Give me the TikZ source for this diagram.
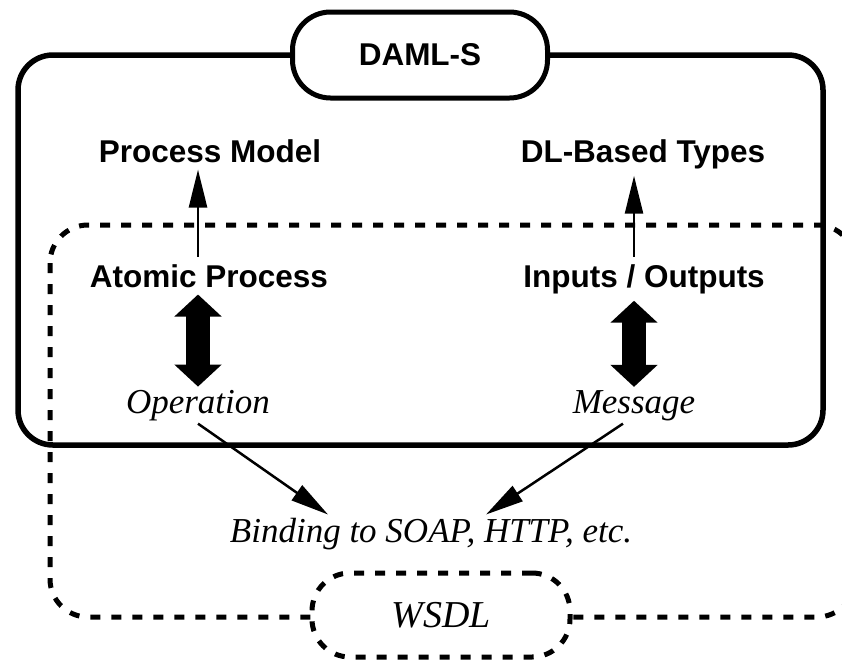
\documentclass[tikz,border=0pt]{standalone}
\usepackage{fontspec}
\setmainfont{Liberation Serif}
\setsansfont{Liberation Sans}
\usetikzlibrary{arrows.meta}

\begin{document}
\begin{tikzpicture}[x=1pt, y=-1pt,
  damlterm/.style = {font=\fontsize{31.5}{36}\selectfont\sffamily\bfseries, inner sep=7pt, anchor=base},
  wsdlterm/.style = {font=\fontsize{35}{40}\selectfont\itshape, inner sep=3pt, anchor=base},
  pill/.style = {draw, fill=white, line width=5pt, rounded corners=38pt,
    minimum width=255pt, minimum height=86pt},
  dots/.style = {line width=5pt, dash pattern=on 10pt off 11pt},
  thin arrow/.style = {line width=2.5pt, -{Triangle[length=38pt,width=18pt]}},
  fat arrow/.style = {line width=24pt,
    {Triangle[length=22pt,width=46pt]}-{Triangle[length=22pt,width=46pt]}}]
  \useasboundingbox (0,0) rectangle (842,659);
  % the two frames
  \draw[line width=5.5pt, rounded corners=35pt] (18,55) rectangle (823,445);
  \draw[dots, rounded corners=38pt] (50,225) rectangle (855,617);
  \node[pill] (daml) at (420,55) {\fontsize{31.5}{36}\selectfont\sffamily\bfseries DAML-S};
  \node[pill, dots, minimum width=258pt, minimum height=84pt] (wsdl) at (441,615)
    {\fontsize{38}{44}\selectfont\itshape WSDL};
  % DAML-S side
  \node[damlterm] (pmodel) at (210,162) {Process Model};
  \node[damlterm] (types) at (643,162) {DL-Based Types};
  \node[damlterm] (atomic) at (209,287) {Atomic Process};
  \node[damlterm] (io) at (644,287) {Inputs / Outputs};
  % WSDL side
  \node[wsdlterm] (op) at (198,413) {Operation};
  \node[wsdlterm] (msg) at (634,413) {Message};
  \node[wsdlterm] (bind) at (431,542) {Binding to SOAP, HTTP, etc.};
  % links
  \draw[thin arrow] (atomic.north -| op) -- (pmodel.south -| op);
  \draw[thin arrow] (io.north -| msg) -- (types.south -| msg);
  \draw[fat arrow] (atomic.south -| op) -- (op.north);
  \draw[fat arrow] (io.south -| msg) -- (msg.north);
  \draw[thin arrow] (op.south) -- ([xshift=-103pt]bind.north);
  \draw[thin arrow] ([xshift=-11pt]msg.south) -- ([xshift=55pt]bind.north);
\end{tikzpicture}
\end{document}
